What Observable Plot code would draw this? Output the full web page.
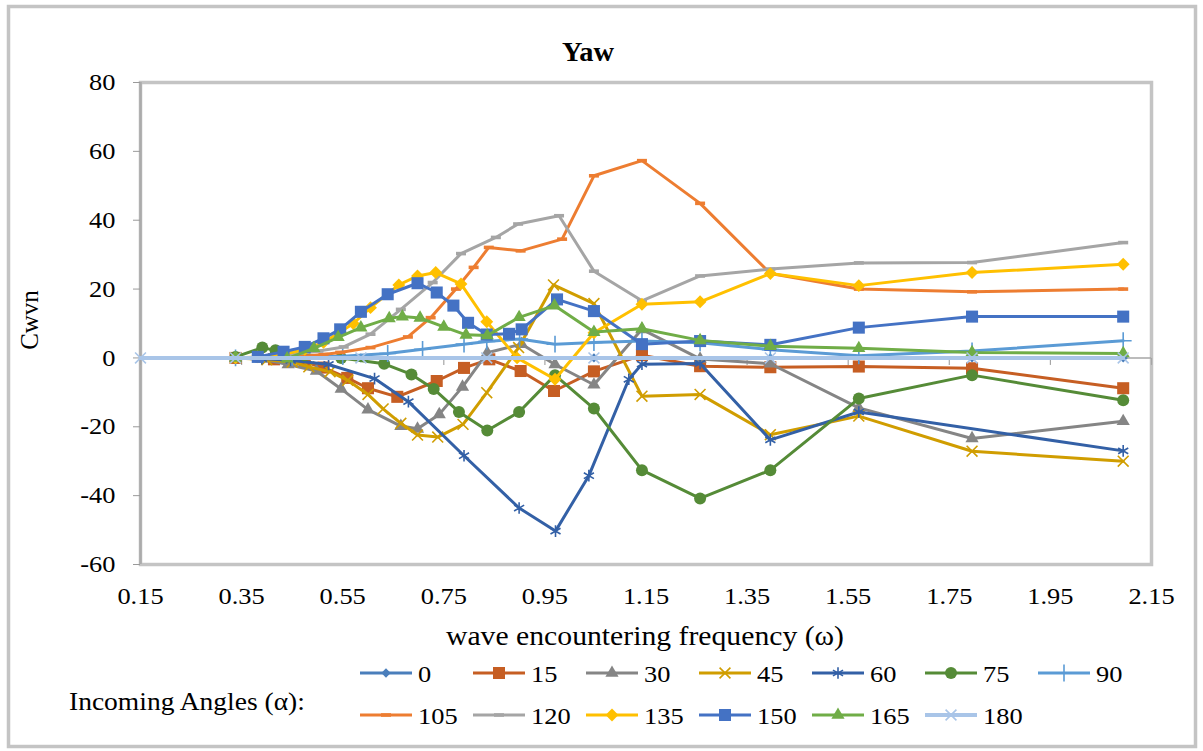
<!DOCTYPE html>
<html>
<head>
<meta charset="utf-8">
<script src="https://cdn.jsdelivr.net/npm/d3@7"></script>
<script src="https://cdn.jsdelivr.net/npm/@observablehq/plot@0.6"></script>
<style>
  body { margin: 0; background: #fff; }
  #chart { position: relative; width: 1203px; height: 751px; overflow: hidden;
           font-family: "Liberation Serif", "Times New Roman", serif; color: #000; }
  #chart svg { position: absolute; left: 0; top: 0; }
  .lbl { position: absolute; white-space: nowrap; line-height: 1; transform-origin: 0 0; }
</style>
</head>
<body>
<div id="chart"></div>
<script>
// Yaw wave-drift coefficient Cwvn versus wave encountering frequency, one series per incoming angle.
const angles = [0, 15, 30, 45, 60, 75, 90, 105, 120, 135, 150, 165, 180];

const omega0   = [0.338, 0.586, 0.835, 1.047, 1.396, 1.795, 2.094];
const cwvn0    = [0, 0, 0, 0, 0, 0, 0];

const omega15  = [0.338, 0.414, 0.475, 0.512, 0.559, 0.600, 0.658, 0.736, 0.790, 0.840, 0.902, 0.968, 1.047, 1.142, 1.257, 1.396, 1.571, 1.795, 2.094];
const cwvn15   = [0, -0.4, -1.2, -2.8, -5.8, -8.8, -11.3, -6.7, -2.9, -0.4, -3.8, -9.6, -3.9, 0.8, -2.4, -2.7, -2.5, -3.0, -8.8];

const omega30  = [0.338, 0.390, 0.442, 0.498, 0.547, 0.600, 0.665, 0.698, 0.741, 0.787, 0.836, 0.904, 0.970, 1.047, 1.142, 1.257, 1.396, 1.571, 1.795, 2.094];
const cwvn30   = [0, -0.3, -1.9, -3.8, -9.0, -15.0, -19.8, -20.6, -16.4, -8.4, 1.5, 4.0, -1.9, -7.8, 8.3, -0.3, -1.7, -14.5, -23.4, -18.4];

const omega45  = [0.338, 0.400, 0.450, 0.483, 0.525, 0.560, 0.600, 0.630, 0.665, 0.698, 0.738, 0.788, 0.835, 0.898, 0.967, 1.047, 1.142, 1.257, 1.396, 1.571, 1.795, 2.094];
const cwvn45   = [0, -0.5, -1.2, -2.6, -4.0, -6.5, -10.6, -14.8, -19.0, -22.4, -23.0, -19.3, -10.1, 3.0, 21.2, 15.8, -11.1, -10.6, -22.3, -16.9, -27.1, -30.0];

const omega60  = [0.338, 0.390, 0.447, 0.522, 0.613, 0.680, 0.790, 0.899, 0.971, 1.037, 1.116, 1.142, 1.257, 1.396, 1.571, 2.094];
const cwvn60   = [0, -0.2, -0.7, -1.9, -6.0, -12.7, -28.4, -43.6, -50.3, -34.2, -6.2, -1.8, -1.6, -23.8, -15.7, -27.0];

const omega75  = [0.338, 0.391, 0.417, 0.475, 0.547, 0.632, 0.686, 0.730, 0.780, 0.836, 0.899, 0.970, 1.047, 1.142, 1.257, 1.396, 1.571, 1.795, 2.094];
const cwvn75   = [0.3, 3.0, 2.2, 0.8, 0, -1.7, -4.8, -9.0, -15.7, -21.1, -15.7, -5.0, -14.7, -32.6, -40.8, -32.6, -11.8, -5.0, -12.3];

const omega90  = [0.338, 0.450, 0.550, 0.639, 0.708, 0.790, 0.835, 0.900, 0.970, 1.047, 1.142, 1.257, 1.396, 1.571, 1.795, 2.094];
const cwvn90   = [0, 0.2, 0.5, 1.3, 2.5, 4.0, 4.8, 5.5, 4.0, 4.5, 4.9, 4.4, 2.4, 0.6, 2.0, 5.0];

const omega105 = [0.338, 0.392, 0.450, 0.512, 0.545, 0.605, 0.679, 0.724, 0.774, 0.809, 0.839, 0.902, 0.984, 1.047, 1.142, 1.257, 1.396, 1.571, 1.795, 2.094];
const cwvn105  = [0, 0.1, 0.3, 1.0, 1.6, 3.0, 6.1, 11.7, 20.0, 26.3, 32.1, 31.1, 34.5, 52.9, 57.3, 44.9, 24.5, 20.0, 19.2, 20.0];

const omega120 = [0.338, 0.420, 0.502, 0.552, 0.605, 0.665, 0.728, 0.784, 0.853, 0.897, 0.978, 1.047, 1.142, 1.257, 1.396, 1.571, 1.795, 2.094];
const cwvn120  = [0, 0.3, 2.0, 3.2, 6.9, 14.1, 21.9, 30.3, 35.0, 38.9, 41.3, 25.2, 16.6, 23.8, 25.8, 27.6, 27.7, 33.5];

const omega135 = [0.338, 0.382, 0.433, 0.475, 0.512, 0.545, 0.571, 0.605, 0.661, 0.698, 0.734, 0.784, 0.835, 0.895, 0.970, 1.047, 1.142, 1.257, 1.396, 1.571, 1.795, 2.094];
const cwvn135  = [0, 0.3, 1.0, 2.5, 4.5, 7.5, 10.0, 14.6, 21.2, 23.8, 24.8, 21.5, 10.5, 0, -6.2, 7.3, 15.6, 16.3, 24.5, 21.0, 24.8, 27.2];

const omega150 = [0.382, 0.433, 0.475, 0.512, 0.545, 0.586, 0.639, 0.698, 0.736, 0.769, 0.798, 0.835, 0.879, 0.904, 0.974, 1.047, 1.142, 1.257, 1.396, 1.571, 1.795, 2.094];
const cwvn150  = [0.3, 1.8, 3.2, 5.7, 8.3, 13.4, 18.5, 21.7, 19.0, 15.2, 10.2, 6.8, 7.0, 8.3, 17.0, 13.6, 4.0, 4.9, 3.8, 8.8, 12.0, 12.0];

const omega165 = [0.338, 0.440, 0.493, 0.541, 0.586, 0.642, 0.668, 0.703, 0.750, 0.794, 0.836, 0.899, 0.969, 1.047, 1.142, 1.257, 1.396, 1.571, 1.795, 2.094];
const cwvn165  = [0, -0.2, 2.8, 6.0, 8.8, 11.5, 12.0, 11.6, 9.0, 6.7, 6.5, 11.8, 15.2, 7.5, 8.5, 5.1, 3.4, 2.8, 1.6, 1.3];

const omega180 = [0.15, 0.338, 0.586, 0.835, 1.047, 1.396, 1.795, 2.094];
const cwvn180  = [0, 0, 0, 0, 0, 0, 0, 0];

const omegaBy = [omega0, omega15, omega30, omega45, omega60, omega75, omega90, omega105, omega120, omega135, omega150, omega165, omega180];
const cwvnBy  = [cwvn0, cwvn15, cwvn30, cwvn45, cwvn60, cwvn75, cwvn90, cwvn105, cwvn120, cwvn135, cwvn150, cwvn165, cwvn180];

const xDomain = [0.15, 2.15];
const xTicks  = [0.15, 0.35, 0.55, 0.75, 0.95, 1.15, 1.35, 1.55, 1.75, 1.95, 2.15];
const yDomain = [-60, 80];
const yTicks  = [-60, -40, -20, 0, 20, 40, 60, 80];

// Series styling (Office palette, line + marker per angle)
const dash = { draw(ctx, size) { const w = Math.sqrt(size) * 0.6; ctx.rect(-w, -1.8, 2 * w, 3.6); } };
const tickDown = { draw(ctx) { ctx.moveTo(0, 0); ctx.lineTo(0, 7); } };
const seriesColor  = ["#4A7EBB", "#C65E23", "#858585", "#D09D00", "#3360A6", "#558B37", "#5B9BD5",
                      "#ED7D31", "#A5A5A5", "#FFC000", "#4472C4", "#70AD47", "#A9C5E8"];
const seriesSymbol = [d3.symbolDiamond2, d3.symbolSquare, d3.symbolTriangle, d3.symbolTimes, d3.symbolAsterisk,
                      d3.symbolCircle, d3.symbolPlus, dash, dash, d3.symbolDiamond2, d3.symbolSquare,
                      d3.symbolTriangle, d3.symbolTimes];
const symbolFilled = [true, true, true, false, false, true, false, true, true, true, true, true, false];
const symbolR      = [4.2, 6.8, 4.9, 5, 5.5, 6, 5.5, 4.7, 4.7, 5.8, 6.8, 4.9, 5];
const lineWidth    = [3, 3, 3, 3, 3, 3, 3, 3, 3, 3, 3, 3, 4];

const FONT = '"Liberation Serif", "Times New Roman", serif';
const STRETCH = 1.1;

const seriesRows = angles.map((angle, i) =>
  omegaBy[i].map((omega, j) => ({ angle, omega, cwvn: cwvnBy[i][j] })));

const seriesMarks = angles.flatMap((angle, i) => [
  Plot.line(seriesRows[i], { x: "omega", y: "cwvn", stroke: seriesColor[i], strokeWidth: lineWidth[i],
                             strokeLinejoin: "round", strokeLinecap: "round" }),
  Plot.dot(seriesRows[i], { x: "omega", y: "cwvn", symbol: seriesSymbol[i], r: symbolR[i],
                            fill: symbolFilled[i] ? seriesColor[i] : "none",
                            stroke: symbolFilled[i] ? "none" : seriesColor[i],
                            strokeWidth: symbolFilled[i] ? 0 : 1.6 })
]);

const chart = document.getElementById("chart");

const svg = Plot.plot({
  width: 1203,
  height: 751,
  marginLeft: 140,
  marginRight: 52,
  marginTop: 82,
  marginBottom: 187,
  x: { domain: xDomain, label: null },
  y: { domain: yDomain, label: null },
  style: { fontFamily: FONT, fontSize: "24px", color: "#000", background: "transparent", overflow: "visible" },
  marks: [
    Plot.frame({ stroke: "#C4C4C4", strokeWidth: 3.5 }),
    Plot.ruleX([xDomain[0]], { stroke: "#ABABAB", strokeWidth: 2.5 }),
    Plot.axisY({ ticks: yTicks, tickSize: 7, tickPadding: 18, tickFormat: d => String(d),
                 stroke: "#9A9A9A", fill: "#000", fontSize: 24 }),
    Plot.axisX({ ticks: xTicks, tickSize: 0, tickPadding: 22, tickFormat: d3.format(".2f"),
                 fill: "#000", fontSize: 24 }),
    Plot.ruleY([0], { stroke: "#A6A6A6", strokeWidth: 1.5 }),
    Plot.dot(xTicks, { x: d => d, y: 0, symbol: tickDown, r: 3, fill: "none", stroke: "#A6A6A6", strokeWidth: 1.2 }),
    ...seriesMarks
  ]
});
chart.appendChild(svg);

// Widen tick label glyphs slightly (horizontal stretch about each label's anchor)
svg.querySelectorAll('g[aria-label="x-axis tick label"] text, g[aria-label="y-axis tick label"] text').forEach(el => {
  const t = el.getAttribute("transform") || "";
  const x = +el.getAttribute("x") || 0, y = +el.getAttribute("y") || 0;
  el.setAttribute("transform", `${t} translate(${x},${y}) scale(${STRETCH},1) translate(${-x},${-y})`);
});

function addText(txt, { x, y, size, weight = "normal", anchor = "middle", rotate = 0, sx = STRETCH }) {
  const d = document.createElement("div");
  d.className = "lbl";
  d.textContent = txt;
  d.style.left = x + "px";
  d.style.top = y + "px";
  d.style.fontSize = size + "px";
  d.style.fontWeight = weight;
  const tx = anchor === "middle" ? "-50%" : anchor === "end" ? "-100%" : "0";
  d.style.transform = `rotate(${rotate}deg) scale(${sx},1) translate(${tx},-50%)`;
  chart.appendChild(d);
}

// Chart-area border and legend keys
const overlay = d3.create("svg").attr("width", 1203).attr("height", 751);
overlay.append("rect").attr("x", 8.5).attr("y", 6.5).attr("width", 1187).attr("height", 740)
  .attr("fill", "none").attr("stroke", "#C4C4C4").attr("stroke-width", 3.5);

const legendX0 = 360, legendPitch = 113, legendKey = 52, legendRowY = [673, 715];
angles.forEach((angle, i) => {
  const row = Math.floor(i / 7), col = i % 7;
  const x0 = legendX0 + col * legendPitch, y = legendRowY[row];
  const g = overlay.append("g");
  g.append("line").attr("x1", x0).attr("x2", x0 + legendKey).attr("y1", y).attr("y2", y)
    .attr("stroke", seriesColor[i]).attr("stroke-width", lineWidth[i]);
  g.append("path")
    .attr("transform", `translate(${x0 + legendKey / 2},${y})`)
    .attr("d", d3.symbol(seriesSymbol[i], Math.PI * symbolR[i] * symbolR[i])())
    .attr("fill", symbolFilled[i] ? seriesColor[i] : "none")
    .attr("stroke", symbolFilled[i] ? "none" : seriesColor[i])
    .attr("stroke-width", symbolFilled[i] ? 0 : 1.6);
  addText(String(angle), { x: x0 + legendKey + 6, y: y + 1, size: 24, anchor: "start" });
});
chart.appendChild(overlay.node());

addText("Yaw", { x: 588, y: 52, size: 27, weight: "bold", sx: 1.05 });
addText("wave encountering frequency (\u03c9)", { x: 645, y: 636, size: 27 });
addText("Cwvn", { x: 29, y: 320, size: 25, rotate: -90, sx: 1 });
addText("Incoming Angles (\u03b1):", { x: 69, y: 701, size: 25, anchor: "start" });
</script>
</body>
</html>
